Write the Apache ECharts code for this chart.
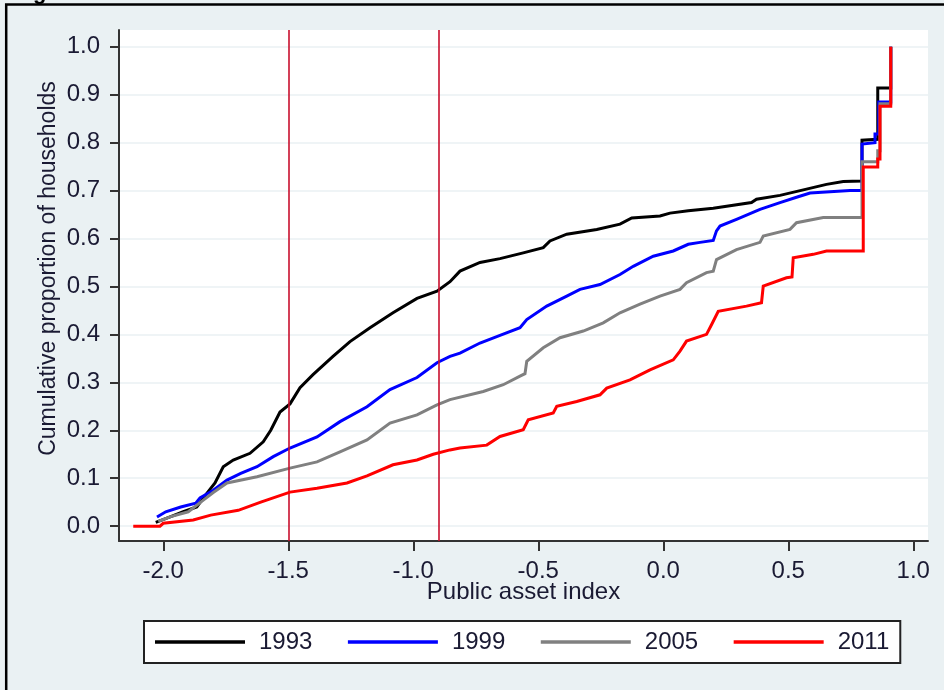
<!DOCTYPE html>
<html>
<head>
<meta charset="utf-8">
<script src="https://cdn.jsdelivr.net/npm/echarts@6/dist/echarts.min.js"></script>
<style>
  html, body { margin: 0; padding: 0; background: #eaf1f3; }
  #chart { width: 944px; height: 690px; }
</style>
</head>
<body>
<div id="chart"></div>
<script>
// Cumulative distribution of the public asset index, by survey year
const years = ['1993', '1999', '2005', '2011'];

// Path vertices [index value, cumulative proportion]; repeated x values mark vertical jumps
const cdf1993 = [
  [-2.03, 0.008], [-1.97, 0.02], [-1.92, 0.03], [-1.866, 0.04], [-1.825, 0.069],
  [-1.793, 0.09], [-1.76, 0.124], [-1.72, 0.138], [-1.653, 0.152], [-1.6, 0.176],
  [-1.57, 0.2], [-1.533, 0.238], [-1.493, 0.255], [-1.453, 0.289], [-1.401, 0.316],
  [-1.321, 0.354], [-1.253, 0.385], [-1.173, 0.414], [-1.081, 0.445], [-0.985, 0.475],
  [-0.905, 0.49], [-0.853, 0.51], [-0.813, 0.532], [-0.733, 0.55], [-0.653, 0.558],
  [-0.56, 0.57], [-0.48, 0.581], [-0.453, 0.595], [-0.386, 0.609], [-0.266, 0.619],
  [-0.173, 0.63], [-0.126, 0.643], [-0.013, 0.647], [0.027, 0.653], [0.1, 0.658],
  [0.2, 0.663], [0.353, 0.675], [0.373, 0.682], [0.467, 0.69], [0.573, 0.703],
  [0.653, 0.713], [0.72, 0.719], [0.795, 0.72], [0.795, 0.805], [0.858, 0.807],
  [0.858, 0.914], [0.91, 0.914], [0.91, 1.0]
];
const cdf1999 = [
  [-2.025, 0.019], [-1.99, 0.03], [-1.93, 0.04], [-1.87, 0.048], [-1.853, 0.059],
  [-1.8, 0.075], [-1.745, 0.096], [-1.69, 0.11], [-1.625, 0.124], [-1.56, 0.145],
  [-1.493, 0.163], [-1.385, 0.186], [-1.293, 0.218], [-1.185, 0.249], [-1.093, 0.285],
  [-0.985, 0.31], [-0.905, 0.341], [-0.853, 0.354], [-0.813, 0.361], [-0.733, 0.382],
  [-0.653, 0.398], [-0.573, 0.414], [-0.546, 0.431], [-0.466, 0.459], [-0.386, 0.48],
  [-0.333, 0.494], [-0.253, 0.504], [-0.173, 0.525], [-0.12, 0.542], [-0.04, 0.563],
  [0.04, 0.574], [0.1, 0.588], [0.147, 0.592], [0.2, 0.596], [0.213, 0.616],
  [0.227, 0.626], [0.293, 0.64], [0.387, 0.661], [0.467, 0.675], [0.533, 0.686],
  [0.587, 0.695], [0.747, 0.7], [0.795, 0.7], [0.795, 0.797], [0.847, 0.8],
  [0.847, 0.818], [0.862, 0.818], [0.862, 0.885], [0.91, 0.885], [0.91, 1.0]
];
const cdf2005 = [
  [-2.02, 0.01], [-1.97, 0.02], [-1.9, 0.03], [-1.85, 0.05], [-1.8, 0.07],
  [-1.745, 0.09], [-1.625, 0.103], [-1.493, 0.121], [-1.385, 0.134], [-1.293, 0.155],
  [-1.185, 0.18], [-1.093, 0.215], [-0.985, 0.232], [-0.905, 0.253], [-0.853, 0.264],
  [-0.72, 0.281], [-0.64, 0.295], [-0.573, 0.313], [-0.553, 0.318], [-0.546, 0.344],
  [-0.48, 0.372], [-0.413, 0.393], [-0.32, 0.407], [-0.24, 0.424], [-0.173, 0.445],
  [-0.093, 0.463], [-0.013, 0.48], [0.067, 0.494], [0.093, 0.508], [0.173, 0.529],
  [0.2, 0.532], [0.213, 0.556], [0.293, 0.577], [0.387, 0.592], [0.4, 0.605],
  [0.507, 0.619], [0.533, 0.633], [0.64, 0.644], [0.795, 0.644], [0.795, 0.76],
  [0.858, 0.76], [0.858, 0.783], [0.867, 0.783], [0.867, 0.881], [0.91, 0.881],
  [0.91, 1.0]
];
const cdf2011 = [
  [-2.12, 0.0], [-2.013, 0.0], [-2.0, 0.006], [-1.88, 0.013], [-1.81, 0.023],
  [-1.7, 0.033], [-1.61, 0.05], [-1.493, 0.071], [-1.385, 0.079], [-1.265, 0.09],
  [-1.185, 0.105], [-1.081, 0.128], [-0.985, 0.138], [-0.92, 0.15], [-0.853, 0.159],
  [-0.813, 0.163], [-0.706, 0.169], [-0.653, 0.187], [-0.56, 0.201], [-0.54, 0.222],
  [-0.44, 0.236], [-0.426, 0.25], [-0.346, 0.26], [-0.253, 0.274], [-0.226, 0.288],
  [-0.133, 0.305], [-0.053, 0.326], [0.04, 0.347], [0.067, 0.365], [0.093, 0.386],
  [0.173, 0.4], [0.193, 0.42], [0.22, 0.448], [0.333, 0.459], [0.393, 0.466],
  [0.4, 0.501], [0.493, 0.518], [0.515, 0.52], [0.52, 0.56], [0.6, 0.567],
  [0.653, 0.574], [0.8, 0.574], [0.8, 0.749], [0.858, 0.749], [0.858, 0.766],
  [0.867, 0.766], [0.867, 0.876], [0.91, 0.876], [0.91, 1.0]
];

const xTicks = [-2.0, -1.5, -1.0, -0.5, 0.0, 0.5, 1.0];
const yTicks = [0.0, 0.1, 0.2, 0.3, 0.4, 0.5, 0.6, 0.7, 0.8, 0.9, 1.0];
const cutoffs = [-1.5, -0.9];

const lineColors = ['#000000', '#0000ff', '#808080', '#ff0000'];
const FONT = "'Liberation Sans', Arial, sans-serif";
const TEXT = '#1a1a33';

const chart = echarts.init(document.getElementById('chart'), null, { renderer: 'canvas' });

const curves = [cdf1993, cdf1999, cdf2005, cdf2011];

const option = {
  backgroundColor: '#eaf1f3',
  animation: false,
  graphic: [
    {
      type: 'rect', silent: true, z: 100,
      shape: { x: 6.2, y: 4.4, width: 980, height: 720 },
      style: { fill: 'none', stroke: '#000', lineWidth: 2.5 }
    },
    {
      type: 'text', silent: true, z: 100,
      style: { text: 'g', x: 33, y: 4, verticalAlign: 'bottom',
               font: 'bold 22px ' + FONT, fill: '#000' }
    }
  ],
  grid: {
    left: 119, right: 16, top: 30, bottom: 149,
    show: true, backgroundColor: '#ffffff', borderWidth: 0
  },
  xAxis: {
    type: 'value',
    min: -2.177, max: 1.059,
    name: 'Public asset index',
    nameLocation: 'middle',
    nameMoveOverlap: false,
    nameGap: 39,
    nameTextStyle: { fontFamily: FONT, fontSize: 24, color: TEXT },
    axisLine: { show: true, onZero: false, lineStyle: { color: '#333', width: 2 } },
    axisTick: { show: true, length: 10, customValues: xTicks, lineStyle: { color: '#333', width: 2 } },
    axisLabel: {
      customValues: xTicks, margin: 18,
      fontFamily: FONT, fontSize: 24, color: TEXT,
      formatter: v => v.toFixed(1)
    },
    splitLine: { show: false }
  },
  yAxis: {
    type: 'value',
    min: -0.031, max: 1.035,
    name: 'Cumulative proportion of households',
    nameLocation: 'middle',
    nameMoveOverlap: false,
    nameGap: 59,
    nameTextStyle: { fontFamily: FONT, fontSize: 23, color: TEXT, padding: [0, 0, 0, 34] },
    axisLine: { show: true, onZero: false, lineStyle: { color: '#333', width: 2 } },
    axisTick: { show: true, length: 9, customValues: yTicks, lineStyle: { color: '#333', width: 2 } },
    axisLabel: {
      customValues: yTicks, margin: 19,
      fontFamily: FONT, fontSize: 24, color: TEXT,
      formatter: v => v.toFixed(1)
    },
    splitLine: { show: true, lineStyle: { color: '#eaf1f3', width: 1.5 } }
  },
  legend: {
    data: years,
    left: 144, top: 621,
    orient: 'horizontal',
    padding: [9, 11, 9, 11],
    itemGap: 35.5,
    icon: 'rect',
    itemWidth: 90, itemHeight: 3.5,
    backgroundColor: '#ffffff',
    borderColor: '#222', borderWidth: 2,
    textStyle: { fontFamily: FONT, fontSize: 24, color: TEXT, lineHeight: 24, padding: [0, 0, 0, 9] }
  },
  series: [
    {
      name: 'cutoffs', type: 'line', data: [], z: 1, silent: true,
      markLine: {
        silent: true, symbol: ['none', 'none'], label: { show: false },
        lineStyle: { color: '#c8102e', width: 1.6, type: 'solid' },
        data: cutoffs.map(v => ({ xAxis: v }))
      }
    },
    ...years.map((yr, i) => ({
      name: yr,
      type: 'line',
      data: curves[i],
      symbol: 'none',
      showSymbol: false,
      z: 2 + i,
      lineStyle: { color: lineColors[i], width: 3, join: 'miter' },
      itemStyle: { color: lineColors[i] }
    }))
  ]
};

chart.setOption(option);
</script>
</body>
</html>
